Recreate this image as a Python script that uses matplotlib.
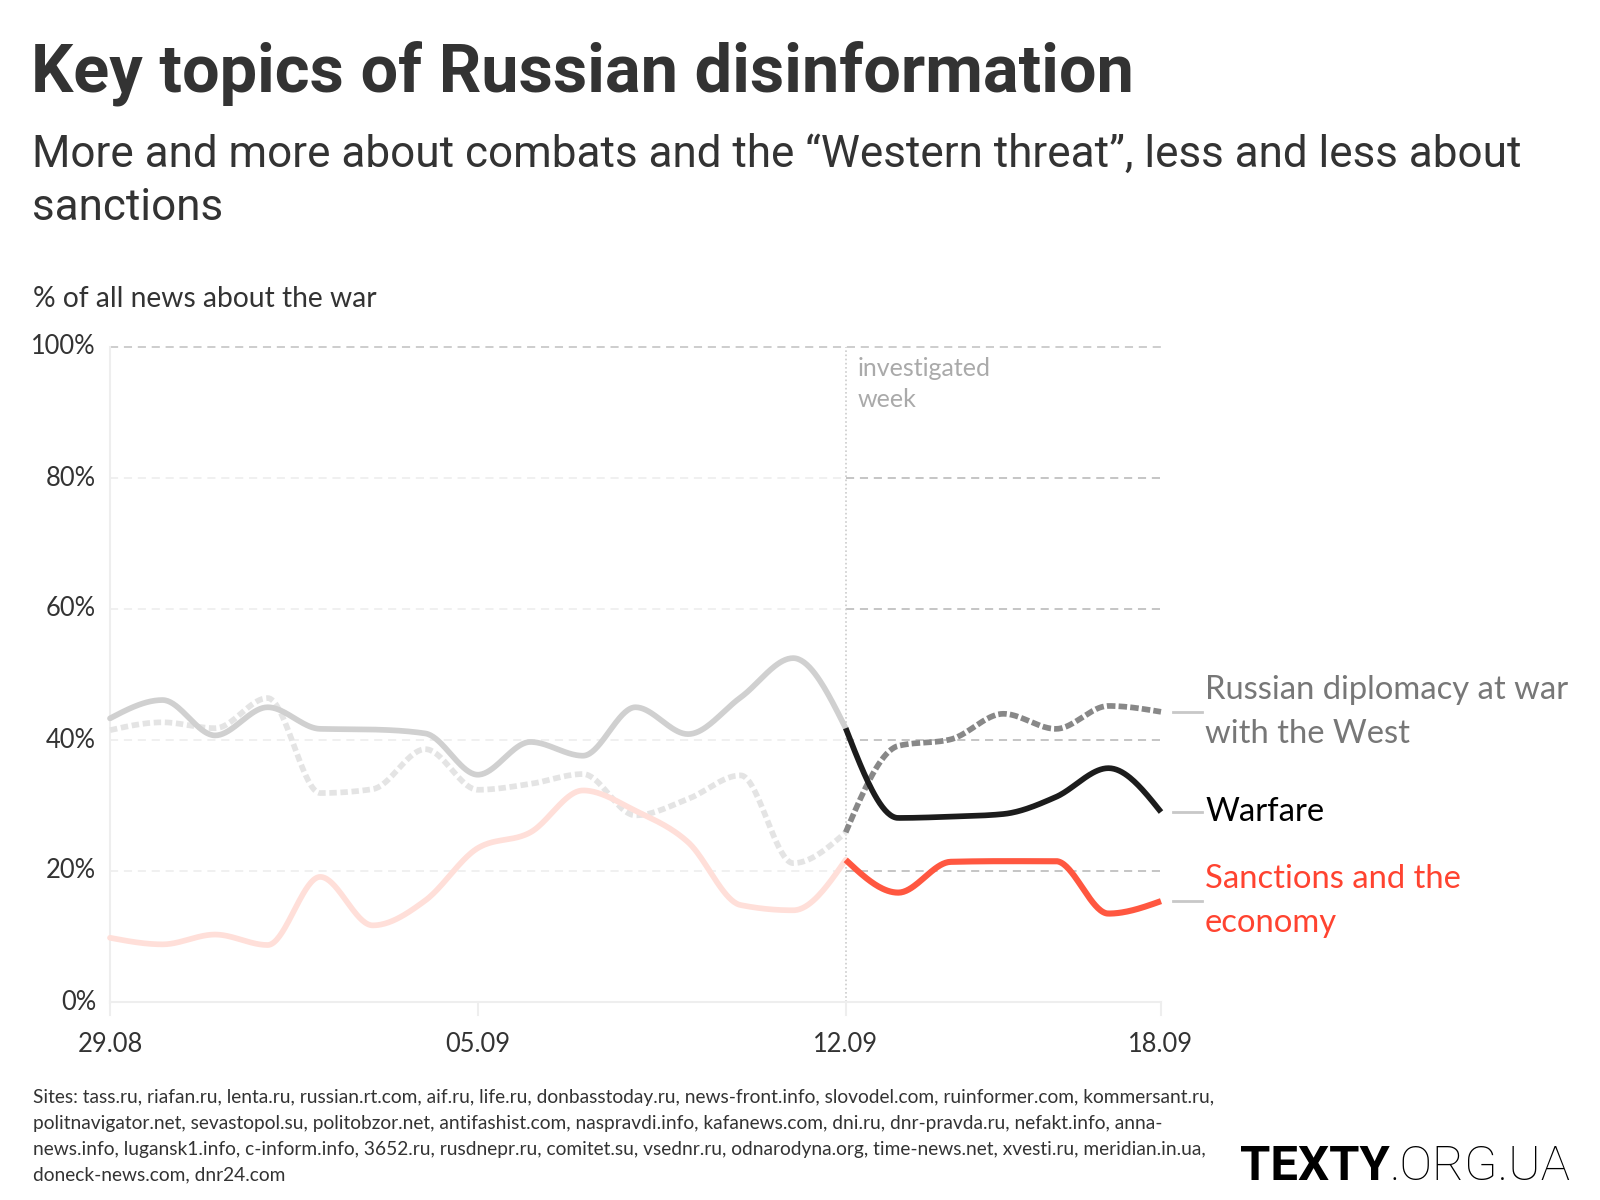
import numpy as np
import matplotlib
matplotlib.use("Agg")
import matplotlib.pyplot as plt
from matplotlib.transforms import blended_transform_factory

# ---------------- data ----------------
dates = ["29.08", "30.08", "31.08", "01.09", "02.09", "03.09", "04.09",
         "05.09", "06.09", "07.09", "08.09", "09.09", "10.09", "11.09",
         "12.09", "13.09", "14.09", "15.09", "16.09", "17.09", "18.09"]
tick_labels = ["29.08", "05.09", "12.09", "18.09"]
y_ticks = [0, 20, 40, 60, 80, 100]

warfare = [43.3, 46.1, 40.7, 45.0, 41.7, 41.6, 41.0, 34.7, 39.7, 37.6, 45.0,
           40.9, 46.5, 52.5, 41.8, 28.1, 28.3, 28.7, 31.3, 35.7, 29.0]
diplomacy = [41.5, 42.7, 41.8, 46.4, 31.9, 32.5, 38.6, 32.4, 33.3, 34.8, 28.5,
             31.0, 34.6, 21.2, 25.9, 39.1, 40.1, 44.0, 41.7, 45.2, 44.3]
sanctions = [9.8, 8.8, 10.3, 8.7, 19.1, 11.7, 15.5, 23.5, 25.9, 32.3, 29.2,
             24.4, 14.8, 14.0, 21.7, 16.7, 21.4, 21.5, 21.5, 13.5, 15.4]

split_date = "12.09"
labels = ["Russian diplomacy at war\nwith the West", "Warfare", "Sanctions and the\neconomy"]

# ---------------- helpers ----------------
def monotone(x, y, n=40):
    x = np.asarray(x, float); y = np.asarray(y, float)
    N = len(x)
    h = np.diff(x); s = np.diff(y) / h
    t = np.zeros(N)
    for i in range(1, N - 1):
        p = (s[i - 1] * h[i] + s[i] * h[i - 1]) / (h[i - 1] + h[i])
        t[i] = (np.sign(s[i - 1]) + np.sign(s[i])) * min(abs(s[i - 1]), abs(s[i]), 0.5 * abs(p))
    t[0] = (3 * s[0] - t[1]) / 2 if N > 2 else s[0]
    t[-1] = (3 * s[-1] - t[-2]) / 2 if N > 2 else s[-1]
    xs, ys = [], []
    for i in range(N - 1):
        u = np.linspace(0, 1, n, endpoint=(i == N - 2))
        h00 = 2 * u**3 - 3 * u**2 + 1
        h10 = u**3 - 2 * u**2 + u
        h01 = -2 * u**3 + 3 * u**2
        h11 = u**3 - u**2
        xs.append(x[i] + u * h[i])
        ys.append(h00 * y[i] + h10 * h[i] * t[i] + h01 * y[i + 1] + h11 * h[i] * t[i + 1])
    return np.concatenate(xs), np.concatenate(ys)

W, H = 1600, 1200
fig = plt.figure(figsize=(16, 12), dpi=100)
fig.patch.set_facecolor("white")

def fx(px):
    return px / W

def fy(py):
    return 1 - py / H

BODY = "Lato"
HEAD = "Roboto"

L, R, T, B = 110, 1161, 347, 1002
ax = fig.add_axes([fx(L), fy(B), (R - L) / W, (B - T) / H])
ax.set_xlim(0, len(dates) - 1)
ax.set_ylim(0, 100)
ax.axis("off")

xi = np.arange(len(dates))
k = dates.index(split_date)
xmax = len(dates) - 1

# grid lines
for yv in y_ticks[1:]:
    if yv == 100:
        ax.plot([0, xmax], [yv, yv], color="#c9c9c9", lw=1.3, ls=(0, (4.5, 3.2)), clip_on=False, zorder=1)
    else:
        ax.plot([0, k], [yv, yv], color="#efefef", lw=1.3, ls=(0, (4.5, 3.2)), clip_on=False, zorder=1)
        ax.plot([k, xmax], [yv, yv], color="#c0c0c0", lw=1.3, ls=(0, (4.5, 3.2)), clip_on=False, zorder=1)

# axes lines
ax.plot([0, 0], [0, 100], color="#eeeeee", lw=1.5, clip_on=False, zorder=1)
ax.plot([0, xmax], [0, 0], color="#eeeeee", lw=1.5, clip_on=False, zorder=1)
tick_tr = blended_transform_factory(ax.transData, fig.transFigure)
for lab in tick_labels:
    xv = dates.index(lab)
    ax.plot([xv, xv], [fy(B), fy(B + 13)], color="#eeeeee", lw=1.5, transform=tick_tr, clip_on=False)
    fig.text(fx(L + xv * (R - L) / xmax), fy(1044), lab, ha="center", va="center",
             fontsize=18.4, color="#333333", family=BODY)
for yv in y_ticks:
    fig.text(fx(96), fy(B - yv * (B - T) / 100), f"{yv}%", ha="right", va="center",
             fontsize=18.4, color="#333333", family=BODY)

# investigated week line
ax.plot([k, k], [0, 100], color="#cccccc", lw=1.2, ls=(0, (1, 1.5)), clip_on=False, zorder=1)
fig.text(fx(858), fy(369), "investigated", ha="left", va="center", fontsize=18, color="#aaaaaa", family=BODY)
fig.text(fx(858), fy(400), "week", ha="left", va="center", fontsize=18, color="#aaaaaa", family=BODY)

# ---------------- lines ----------------
LW = 4.1
# pre period (faded)
xs, ys = monotone(xi[:k + 1], diplomacy[:k + 1])
ax.plot(xs, ys, color="#e4e4e4", lw=LW, ls=(0, (1.3, 0.65)), dash_capstyle="butt", zorder=2, clip_on=False)
xs, ys = monotone(xi[:k + 1], sanctions[:k + 1])
ax.plot(xs, ys, color="#ffdfd9", lw=LW, solid_capstyle="round", zorder=2, clip_on=False)
xs, ys = monotone(xi[:k + 1], warfare[:k + 1])
ax.plot(xs, ys, color="#d0d0d0", lw=LW, solid_capstyle="round", zorder=3, clip_on=False)

# investigated week
xs, ys = monotone(xi[k:], diplomacy[k:])
ax.plot(xs, ys, color="#888888", lw=LW, ls=(0, (1.5, 0.55)), dash_capstyle="butt", zorder=4, clip_on=False)
xs, ys = monotone(xi[k:], warfare[k:])
ax.plot(xs, ys, color="#1c1c1c", lw=LW, solid_capstyle="butt", zorder=5, clip_on=False)
xs, ys = monotone(xi[k:], sanctions[k:])
ax.plot(xs, ys, color="#ff5740", lw=LW + 0.3, solid_capstyle="butt", zorder=5, clip_on=False)

# right labels
lab_tr = blended_transform_factory(fig.transFigure, ax.transData)
label_colors = ["#777777", "#000000", "#ff4330"]
ends = [diplomacy[-1], warfare[-1], sanctions[-1]]
for text, col, yv in zip(labels, label_colors, ends):
    ax.plot([fx(1173), fx(1202)], [yv, yv], color="#c8c8c8", lw=2, transform=lab_tr, clip_on=False)
    ax.text(fx(1205), yv, text, transform=lab_tr, ha="left", va="center", fontsize=23.6,
            color=col, family=BODY, linespacing=1.6, clip_on=False)

# ---------------- titles ----------------
fig.text(fx(31), fy(92), "Key topics of Russian disinformation", ha="left", va="baseline",
         fontsize=48, fontweight="bold", color="#333333", family=HEAD)
fig.text(fx(32), fy(167), "More and more about combats and the \u201cWestern threat\u201d, less and less about",
         ha="left", va="baseline", fontsize=31.7, color="#333333", family=HEAD)
fig.text(fx(32), fy(220), "sanctions", ha="left", va="baseline", fontsize=31.7, color="#333333", family=HEAD)
fig.text(fx(33), fy(299), "% of all news about the war", ha="left", va="center", fontsize=20.3,
         color="#333333", family=BODY)

# footnote
foot = ["Sites: tass.ru, riafan.ru, lenta.ru, russian.rt.com, aif.ru, life.ru, donbasstoday.ru, news-front.info, slovodel.com, ruinformer.com, kommersant.ru,",
        "politnavigator.net, sevastopol.su, politobzor.net, antifashist.com, naspravdi.info, kafanews.com, dni.ru, dnr-pravda.ru, nefakt.info, anna-",
        "news.info, lugansk1.info, c-inform.info, 3652.ru, rusdnepr.ru, comitet.su, vsednr.ru, odnarodyna.org, time-news.net, xvesti.ru, meridian.in.ua,",
        "doneck-news.com, dnr24.com"]
for i, line in enumerate(foot):
    fig.text(fx(33), fy(1098 + i * 25.6), line, ha="left", va="center", fontsize=13.8,
             color="#333333", family=BODY)

# logo
t1 = fig.text(fx(1240), fy(1180), "TEXTY", ha="left", va="baseline", fontsize=35.3,
              fontweight="bold", color="#000000", family=HEAD)
fig.canvas.draw()
bb = t1.get_window_extent(renderer=fig.canvas.get_renderer())
fig.text(bb.x1 / W, fy(1180), ".ORG.UA", ha="left", va="baseline", fontsize=35.3,
         fontweight="light", color="#000000", family=HEAD)

fig.savefig("out.png", dpi=100, facecolor="white")
